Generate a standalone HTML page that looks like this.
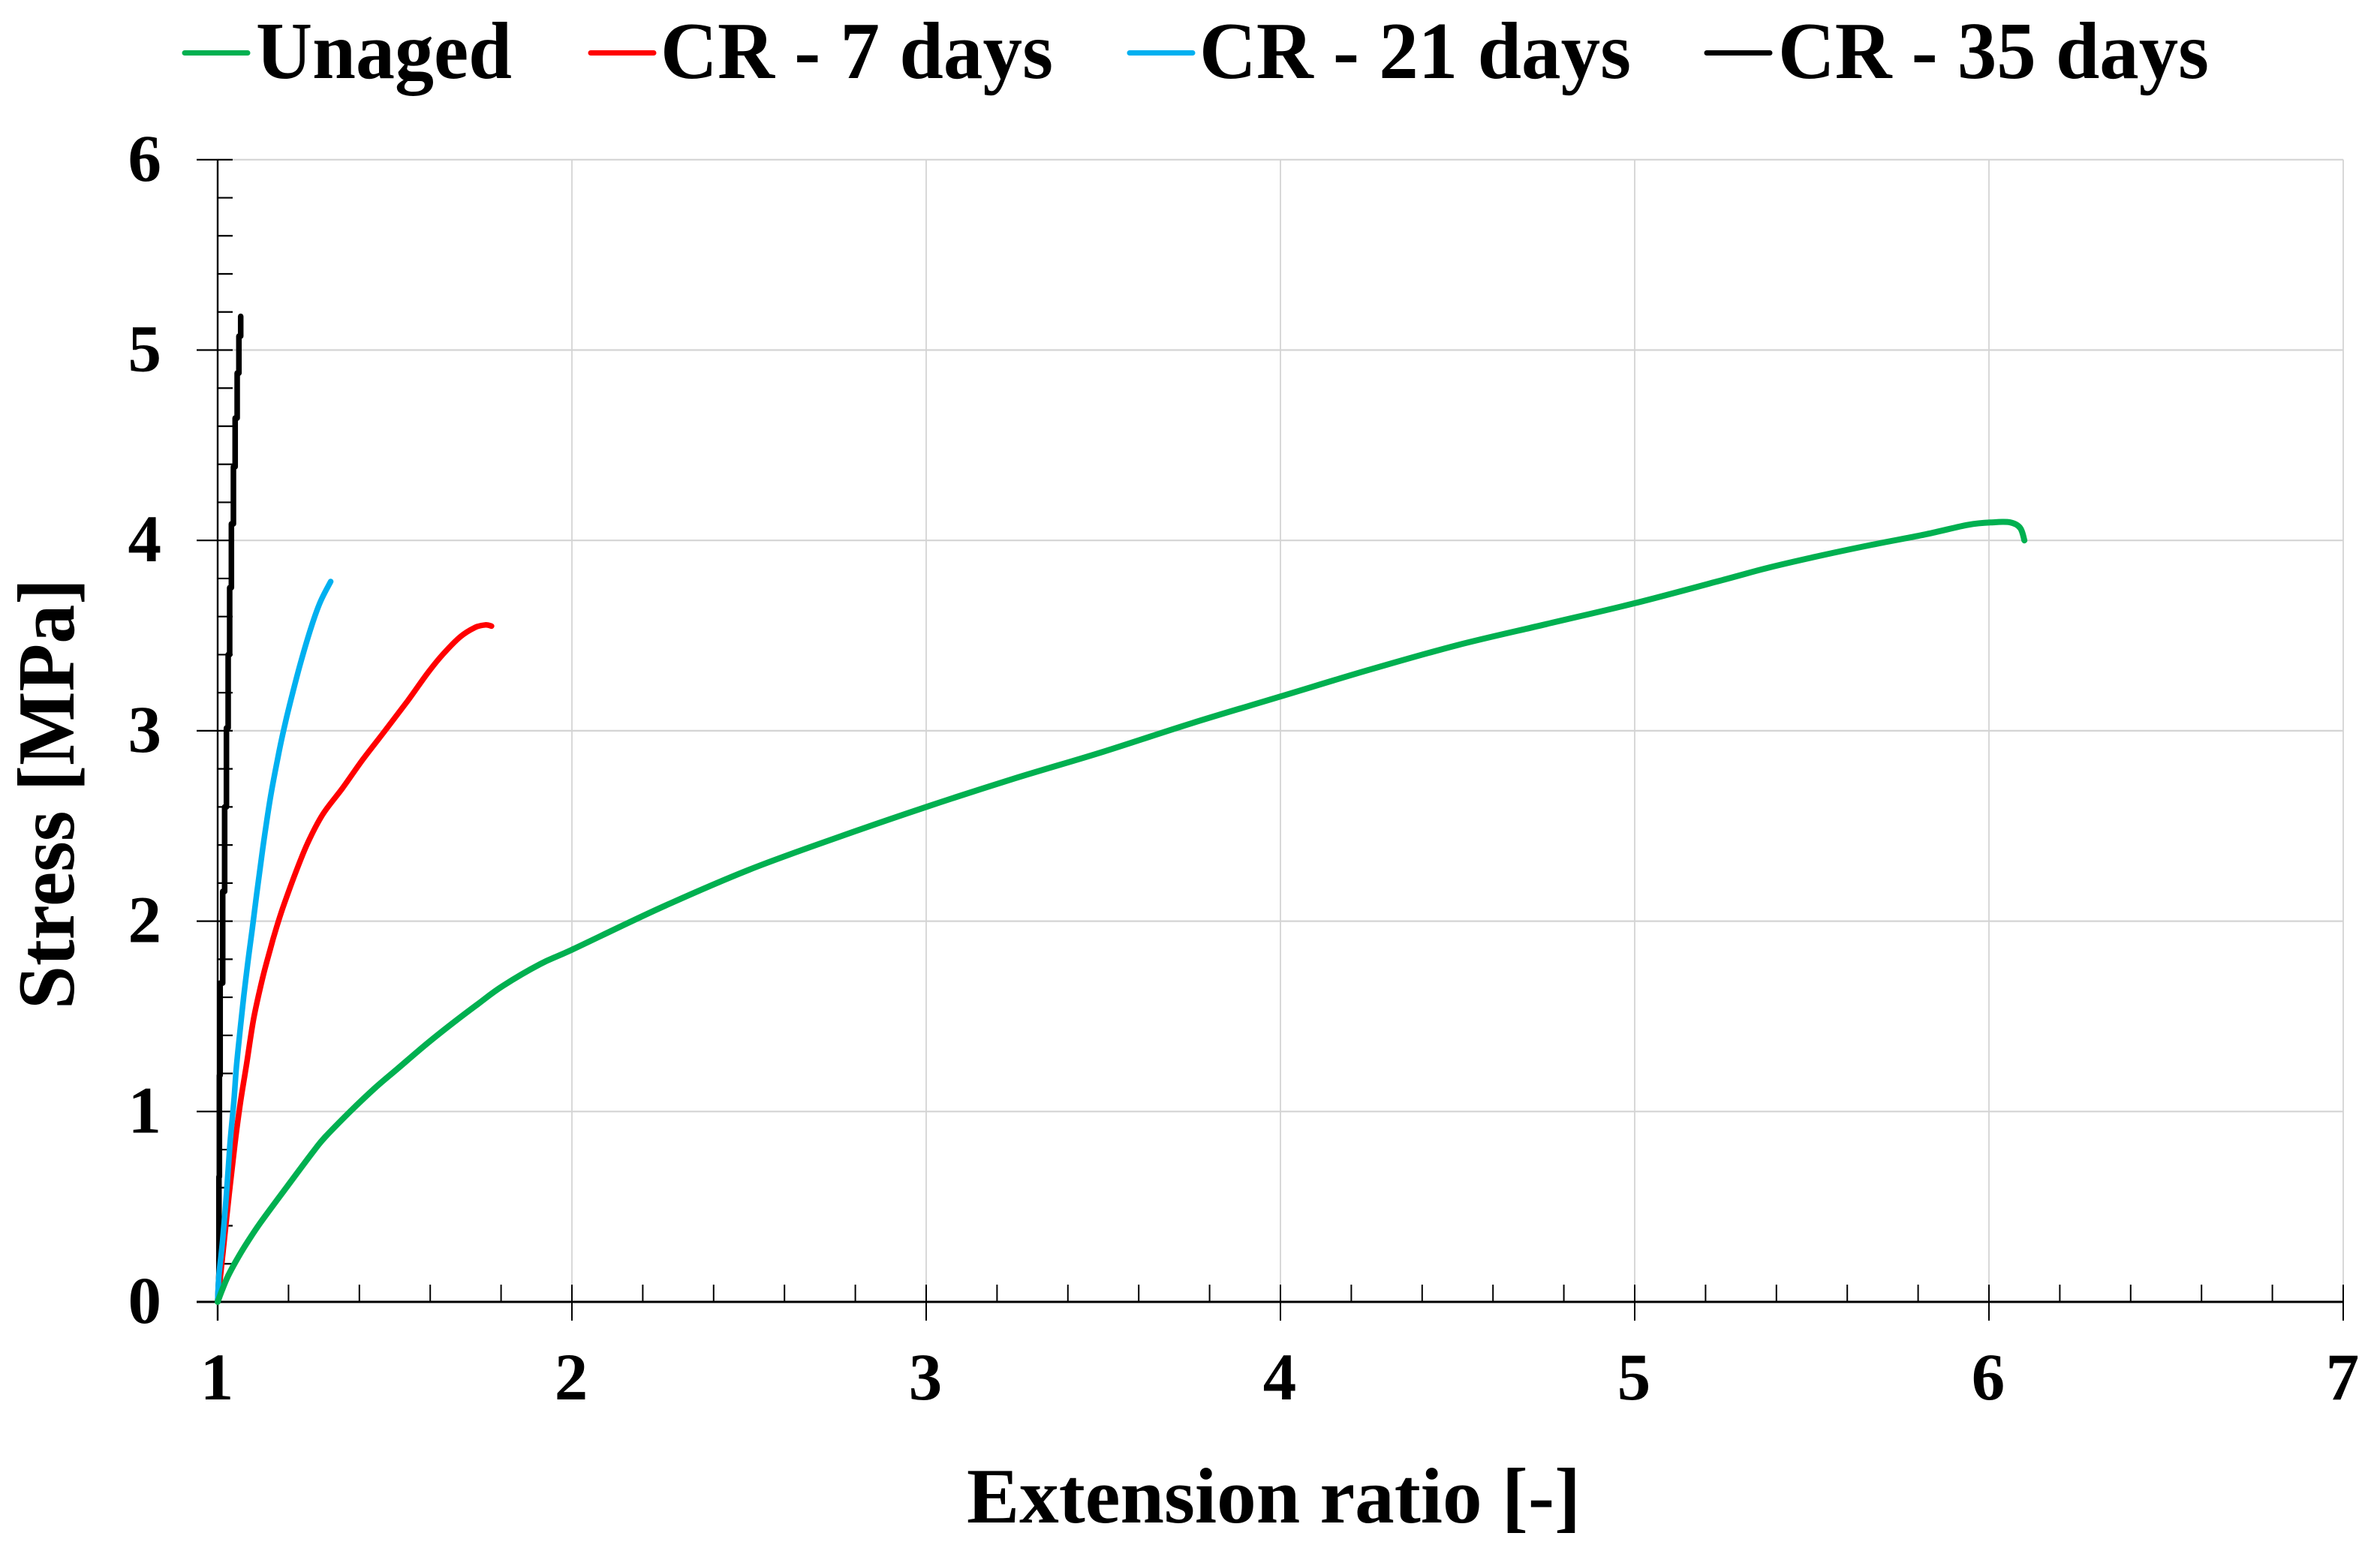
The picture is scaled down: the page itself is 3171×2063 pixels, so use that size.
<!DOCTYPE html>
<html lang="en">
<head>
<meta charset="utf-8">
<title>Stress vs extension ratio</title>
<style>
html,body{margin:0;padding:0;background:#fff;}
svg{display:block;}
text{font-family:"Liberation Serif",serif;font-weight:bold;fill:#000;}
</style>
</head>
<body>
<svg id="chart" xmlns="http://www.w3.org/2000/svg" width="3171" height="2063" viewBox="0 0 3171 2063">
  <rect x="0" y="0" width="3171" height="2063" fill="#ffffff"/>
  <g id="grid"></g>
  <g id="axes"></g>
  <g id="series"></g>
  <g id="labels"></g>

  <g>
    <g>
      <line x1="246" y1="70.5" x2="330" y2="70.5" stroke="#00b050" stroke-width="7" stroke-linecap="round"/>
      <text x="341" y="104" font-size="108" textLength="341" lengthAdjust="spacingAndGlyphs">Unaged</text>
    </g>
    <g>
      <line x1="787" y1="70.5" x2="871" y2="70.5" stroke="#ff0000" stroke-width="7" stroke-linecap="round"/>
      <text x="880" y="104" font-size="108" textLength="523" lengthAdjust="spacingAndGlyphs">CR - 7 days</text>
    </g>
    <g>
      <line x1="1505" y1="70.5" x2="1589" y2="70.5" stroke="#00b0f0" stroke-width="7" stroke-linecap="round"/>
      <text x="1598" y="104" font-size="108" textLength="575" lengthAdjust="spacingAndGlyphs">CR - 21 days</text>
    </g>
    <g>
      <line x1="2274" y1="70.5" x2="2358" y2="70.5" stroke="#000000" stroke-width="7" stroke-linecap="round"/>
      <text x="2369" y="104" font-size="108" textLength="574" lengthAdjust="spacingAndGlyphs">CR - 35 days</text>
    </g>
  </g>

  <text x="1288" y="2029" font-size="105" textLength="818" lengthAdjust="spacingAndGlyphs">Extension ratio [-]</text>
  <text transform="translate(98,1345) rotate(-90)" x="0" y="0" font-size="108" textLength="574" lengthAdjust="spacingAndGlyphs">Stress [MPa]</text>
</svg>

<script>
// Axis values
const xTickValues = [1, 2, 3, 4, 5, 6, 7];
const yTickValues = [0, 1, 2, 3, 4, 5, 6];
const minorDivisions = 5;

// Series values
const unagedX = [1, 1.012, 1.028, 1.049, 1.078, 1.12, 1.198, 1.268, 1.303, 1.374, 1.445, 1.508, 1.593, 1.664, 1.735, 1.805, 1.911, 2.0, 2.25, 2.5, 2.75, 3.0, 3.25, 3.5, 3.75, 4.0, 4.25, 4.5, 4.75, 5.0, 5.258, 5.376, 5.529, 5.67, 5.824, 5.941, 6.012, 6.059, 6.088, 6.10];
const unagedY = [0, 0.06, 0.131, 0.205, 0.296, 0.414, 0.611, 0.785, 0.865, 1.0, 1.125, 1.225, 1.36, 1.465, 1.565, 1.66, 1.775, 1.85, 2.07, 2.27, 2.44, 2.60, 2.75, 2.89, 3.04, 3.18, 3.32, 3.45, 3.56, 3.67, 3.797, 3.856, 3.922, 3.977, 4.033, 4.082, 4.095, 4.095, 4.066, 4.00];

const cr7X = [1, 1.015, 1.032, 1.049, 1.064, 1.081, 1.102, 1.127, 1.148, 1.165, 1.184, 1.219, 1.254, 1.297, 1.353, 1.41, 1.473, 1.537, 1.593, 1.636, 1.685, 1.727, 1.756, 1.773];
const cr7Y = [0, 0.26, 0.558, 0.834, 1.044, 1.241, 1.491, 1.702, 1.85, 1.96, 2.07, 2.25, 2.41, 2.562, 2.70, 2.85, 3.002, 3.159, 3.304, 3.402, 3.494, 3.543, 3.556, 3.550];

const cr21X = [1, 1.0036, 1.014, 1.025, 1.035, 1.046, 1.053, 1.064, 1.074, 1.085, 1.097, 1.11, 1.127, 1.148, 1.169, 1.187, 1.205, 1.233, 1.265, 1.29, 1.319];
const cr21Y = [0, 0.138, 0.322, 0.571, 0.834, 1.058, 1.235, 1.439, 1.61, 1.78, 1.95, 2.14, 2.377, 2.64, 2.85, 3.01, 3.15, 3.35, 3.55, 3.678, 3.784];

const cr35X = [1, 1.0036, 1.0036, 1.0049, 1.0049, 1.007, 1.007, 1.0142, 1.0142, 1.0197, 1.0197, 1.0248, 1.0248, 1.0297, 1.0297, 1.0339, 1.0339, 1.0388, 1.0388, 1.0445, 1.0445, 1.0494, 1.0494, 1.0551, 1.0551, 1.06, 1.06, 1.065, 1.065];
const cr35Y = [0, 0.15, 0.658, 0.658, 1.19, 1.19, 1.675, 1.675, 2.156, 2.156, 2.60, 2.60, 3.015, 3.015, 3.40, 3.40, 3.752, 3.752, 4.087, 4.087, 4.387, 4.387, 4.643, 4.643, 4.879, 4.879, 5.073, 5.073, 5.177];

const NS = 'http://www.w3.org/2000/svg';
const xLeft = 290, xRight = 3122, yBottom = 1735, yTop = 212.8;
const xMin = xTickValues[0], xMax = xTickValues[xTickValues.length - 1];
const yMin = yTickValues[0], yMax = yTickValues[yTickValues.length - 1];

function xScale(v) { return xLeft + (v - xMin) / (xMax - xMin) * (xRight - xLeft); }
function yScale(v) { return yBottom - (v - yMin) / (yMax - yMin) * (yBottom - yTop); }

function makeLine(parent, x1, y1, x2, y2, stroke, width) {
  const el = document.createElementNS(NS, 'line');
  el.setAttribute('x1', x1);
  el.setAttribute('y1', y1);
  el.setAttribute('x2', x2);
  el.setAttribute('y2', y2);
  el.setAttribute('stroke', stroke);
  el.setAttribute('stroke-width', width);
  parent.appendChild(el);
  return el;
}

function makeLabel(parent, x, y, content) {
  const el = document.createElementNS(NS, 'text');
  el.setAttribute('x', x);
  el.setAttribute('y', y);
  el.setAttribute('font-size', '89');
  el.setAttribute('text-anchor', 'middle');
  el.textContent = content;
  parent.appendChild(el);
  return el;
}

const gridGroup = document.getElementById('grid');
const axesGroup = document.getElementById('axes');
const labelGroup = document.getElementById('labels');
const seriesGroup = document.getElementById('series');

// Gridlines
yTickValues.forEach(function (v) {
  if (v === yMin) return;
  const el = makeLine(gridGroup, xLeft, yScale(v), xRight, yScale(v), '#d4d4d4', 2.2);
  
  
});
xTickValues.forEach(function (v) {
  if (v === xMin) return;
  const el = makeLine(gridGroup, xScale(v), yTop, xScale(v), yBottom, '#d4d4d4', 1.8);
  
  
});

// Axis lines
const xAxisLine = makeLine(axesGroup, 262, yBottom, xRight, yBottom, '#000', 3);


const yAxisLine = makeLine(axesGroup, xLeft, yTop, xLeft, 1760, '#000', 2.4);



// X ticks and labels
xTickValues.forEach(function (v, i) {
  const major = makeLine(axesGroup, xScale(v), 1712, xScale(v), 1760, '#000', 2);
  
  
  const label = makeLabel(labelGroup, xScale(v) - 1, 1865, String(v));
  
  
  if (i < xTickValues.length - 1) {
    for (let m = 1; m < minorDivisions; m++) {
      const mv = v + m * (xTickValues[i + 1] - v) / minorDivisions;
      const minor = makeLine(axesGroup, xScale(mv), 1712, xScale(mv), yBottom, '#000', 2);
      
      
    }
  }
});

// Y ticks and labels
yTickValues.forEach(function (v, i) {
  const major = makeLine(axesGroup, 262, yScale(v), 310, yScale(v), '#000', 2.2);
  
  
  const label = makeLabel(labelGroup, 192.7, yScale(v) + 28, String(v));
  
  
  if (i < yTickValues.length - 1) {
    for (let m = 1; m < minorDivisions; m++) {
      const mv = v + m * (yTickValues[i + 1] - v) / minorDivisions;
      const minor = makeLine(axesGroup, xLeft, yScale(mv), 310, yScale(mv), '#000', 2.2);
      
      
    }
  }
});

// Straight polyline through the points (stepped series)
function makeSeries(xs, ys, color, width) {
  const el = document.createElementNS(NS, 'polyline');
  const pts = xs.map(function (x, i) {
    return xScale(x).toFixed(1) + ',' + yScale(ys[i]).toFixed(1);
  });
  el.setAttribute('points', pts.join(' '));
  el.setAttribute('fill', 'none');
  el.setAttribute('stroke', color);
  el.setAttribute('stroke-width', width);
  el.setAttribute('stroke-linejoin', 'round');
  el.setAttribute('stroke-linecap', 'round');
  seriesGroup.appendChild(el);
  return el;
}

// Smooth curve through the points (Catmull-Rom to Bezier)
function makeSmoothSeries(xs, ys, color, width) {
  const px = xs.map(xScale);
  const py = ys.map(yScale);
  let d = 'M' + px[0].toFixed(1) + ' ' + py[0].toFixed(1);
  for (let i = 0; i < px.length - 1; i++) {
    const a = Math.max(i - 1, 0);
    const b = Math.min(i + 2, px.length - 1);
    const c1x = px[i] + (px[i + 1] - px[a]) / 6;
    const c1y = py[i] + (py[i + 1] - py[a]) / 6;
    const c2x = px[i + 1] - (px[b] - px[i]) / 6;
    const c2y = py[i + 1] - (py[b] - py[i]) / 6;
    d += ' C' + c1x.toFixed(1) + ' ' + c1y.toFixed(1) + ' ' + c2x.toFixed(1) + ' ' + c2y.toFixed(1) + ' ' + px[i + 1].toFixed(1) + ' ' + py[i + 1].toFixed(1);
  }
  const el = document.createElementNS(NS, 'path');
  el.setAttribute('d', d);
  el.setAttribute('fill', 'none');
  el.setAttribute('stroke', color);
  el.setAttribute('stroke-width', width);
  el.setAttribute('stroke-linejoin', 'round');
  el.setAttribute('stroke-linecap', 'round');
  seriesGroup.appendChild(el);
  return el;
}

const lineCr35 = makeSeries(cr35X, cr35Y, '#000000', 7.5);


const lineCr7 = makeSmoothSeries(cr7X, cr7Y, '#ff0000', 7.5);


const lineCr21 = makeSmoothSeries(cr21X, cr21Y, '#00b0f0', 7.5);


const lineUnaged = makeSmoothSeries(unagedX, unagedY, '#00b050', 8);


</script>
</body>
</html>
